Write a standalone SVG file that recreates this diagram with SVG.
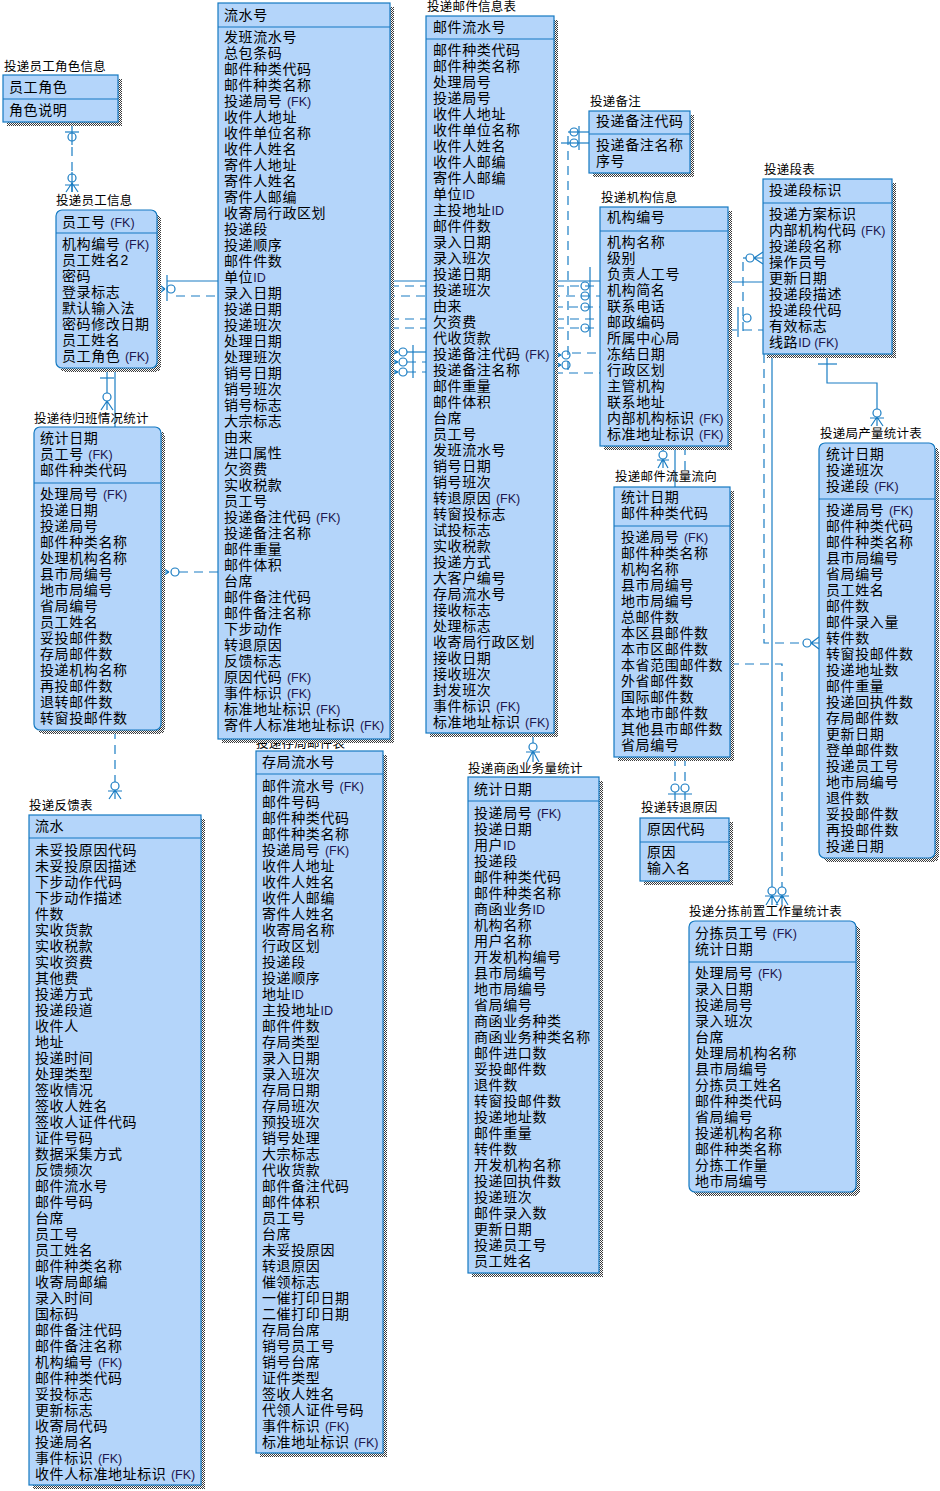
<svg xmlns="http://www.w3.org/2000/svg" width="940" height="1491" viewBox="0 0 940 1491">
<defs>
<pattern id="chk" width="2" height="2" patternUnits="userSpaceOnUse"><rect width="2" height="2" fill="#fff"/><rect width="1" height="1" fill="#3a3a3a"/><rect x="1" y="1" width="1" height="1" fill="#3a3a3a"/></pattern>
<style>
.t{font-family:"Liberation Sans","Noto Sans CJK SC",sans-serif;font-size:14px;letter-spacing:0.6px;fill:#000}
.lb{font-family:"Liberation Sans","Noto Sans CJK SC",sans-serif;font-size:12.5px;letter-spacing:0.25px;fill:#000}
.fk{font-size:12.5px;letter-spacing:0;fill:#1c1650}
.box{fill:#b4d5fa;stroke:#1479c1;stroke-width:1.2}
.sh{fill:url(#chk);shape-rendering:crispEdges}
.sep{stroke:#1479c1;stroke-width:1.2}
.c path,.c circle{stroke:#1a7dc3;stroke-width:1.2;fill:none}
.c .d{stroke-dasharray:9 6}
</style>
</defs>
<rect width="940" height="1491" fill="#fff"/>

<g id="connectors" class="c">
<path d="M72,122V145"/><path class="d" d="M72,147V172"/><path d="M72,172V192"/>
<path d="M65,132H79"/><circle cx="72" cy="137" r="4"/><circle cx="72" cy="178" r="4"/>
<path d="M65,185H79M72,183L66,192M72,183V192M72,183L78,192"/>
<path d="M165,289L157,283M165,289H157M165,289L157,295"/>
<circle cx="171" cy="289" r="4"/>
<path d="M167,275V301"/>
<path d="M167,281H600"/>
<path class="d" d="M176,296H600"/>
<path class="d" d="M390,286H600"/>
<path class="d" d="M554,307H600"/>
<path class="d" d="M390,319H600"/>
<path class="d" d="M390,328H600"/>
<circle cx="585" cy="286" r="4"/><circle cx="585" cy="296" r="4"/><circle cx="585" cy="307" r="4"/><circle cx="585" cy="328" r="4"/>
<path d="M590,267V337"/>
<path d="M398,352L390,348M398,352H390M398,352L390,356"/><circle cx="403" cy="352" r="4"/><path d="M407,352H426"/>
<path d="M398,362L390,358M398,362H390M398,362L390,366"/><circle cx="403" cy="362" r="4"/><path class="d" d="M407,362H426"/>
<path d="M398,372L390,368M398,372H390M398,372L390,376"/><circle cx="403" cy="372" r="4"/><path class="d" d="M407,372H426"/>
<path d="M413,345V378"/>
<circle cx="574" cy="132" r="4"/><circle cx="574" cy="143" r="4"/>
<path d="M579,126V150"/><path d="M561,143H589"/><path d="M568,132H589"/>
<path class="d" d="M568,136V373"/>
<path d="M561,355L554,351M561,355H554M561,355L554,359"/><circle cx="566" cy="355" r="4"/>
<path d="M561,365L554,361M561,365H554M561,365L554,369"/><circle cx="566" cy="365" r="4"/>
<path class="d" d="M572,353H600"/><path class="d" d="M554,373H600"/>
<path d="M169,572L161,567M169,572H161M169,572L161,577"/><circle cx="175" cy="572" r="4"/>
<path class="d" d="M179,572H218"/>
<path d="M107,368V393"/><path d="M100,378H114"/><circle cx="107" cy="397" r="4"/>
<path d="M107,401L101,410M107,401V410M107,401L113,410"/>
<path d="M115,368V427"/>
<path class="d" d="M115,730V782"/><circle cx="115" cy="786" r="4"/>
<path d="M108,791H122M115,790L109,799M115,790V799M115,790L121,799"/>
<path d="M533,733V743"/><circle cx="533" cy="747" r="4"/>
<path d="M526,752H540M533,751L527,762M533,751V762M533,751L539,762"/>
<path d="M728,282H772V887"/>
<path class="d" d="M728,330H764V643H803"/>
<circle cx="807" cy="643" r="4"/>
<path d="M811,643L819,637M811,643H819M811,643L819,649"/>
<path class="d" d="M743,262V337"/>
<path d="M743,258H746"/><circle cx="750" cy="258" r="4"/>
<path d="M754,258L763,252M754,258H763M754,258L763,264"/>
<circle cx="747" cy="318" r="4"/><path d="M738,307V337"/>
<path d="M827,354V383H877V409"/><path d="M818,364H837"/>
<circle cx="877" cy="413" r="4"/>
<path d="M870,418H884M877,417L871,426M877,417V426M877,417L883,426"/>
<path class="d" d="M730,664H782V887"/>
<circle cx="772" cy="891" r="4"/><circle cx="782" cy="891" r="4"/>
<path d="M765,896H789M772,895L766,905M772,895V905M772,895L778,905M782,895L776,905M782,895V905M782,895L788,905"/>
<path d="M663,446V451"/><circle cx="663" cy="455" r="4"/>
<path d="M657,460H669M663,459L658,468M663,459V468M663,459L668,468"/>
<path d="M675,446V487"/><path class="d" d="M685,446V475"/><path d="M675,448H685"/>
<path class="d" d="M675,757V784"/><path class="d" d="M685,757V784"/>
<circle cx="675" cy="788" r="4"/><circle cx="685" cy="788" r="4"/>
<path d="M668,794H692M675,792V800M685,792V800"/>
</g>

<g id="t-cunju">
<text class="lb" x="256" y="748">投递存局邮件表</text>
<rect class="sh" x="260" y="755" width="127" height="702"/>
<rect class="box" x="256" y="751" width="127" height="702"/>
<line class="sep" x1="256" y1="774" x2="383" y2="774"/>
<text class="t" x="262" y="767">存局流水号</text>
<text class="t" x="262" y="791"><tspan x="262" dy="0">邮件流水号 <tspan class="fk">(FK)</tspan></tspan><tspan x="262" dy="16">邮件号码</tspan><tspan x="262" dy="16">邮件种类代码</tspan><tspan x="262" dy="16">邮件种类名称</tspan><tspan x="262" dy="16">投递局号 <tspan class="fk">(FK)</tspan></tspan><tspan x="262" dy="16">收件人地址</tspan><tspan x="262" dy="16">收件人姓名</tspan><tspan x="262" dy="16">收件人邮编</tspan><tspan x="262" dy="16">寄件人姓名</tspan><tspan x="262" dy="16">收寄局名称</tspan><tspan x="262" dy="16">行政区划</tspan><tspan x="262" dy="16">投递段</tspan><tspan x="262" dy="16">投递顺序</tspan><tspan x="262" dy="16">地址<tspan class="fk">ID</tspan></tspan><tspan x="262" dy="16">主投地址<tspan class="fk">ID</tspan></tspan><tspan x="262" dy="16">邮件件数</tspan><tspan x="262" dy="16">存局类型</tspan><tspan x="262" dy="16">录入日期</tspan><tspan x="262" dy="16">录入班次</tspan><tspan x="262" dy="16">存局日期</tspan><tspan x="262" dy="16">存局班次</tspan><tspan x="262" dy="16">预投班次</tspan><tspan x="262" dy="16">销号处理</tspan><tspan x="262" dy="16">大宗标志</tspan><tspan x="262" dy="16">代收货款</tspan><tspan x="262" dy="16">邮件备注代码</tspan><tspan x="262" dy="16">邮件体积</tspan><tspan x="262" dy="16">员工号</tspan><tspan x="262" dy="16">台席</tspan><tspan x="262" dy="16">未妥投原因</tspan><tspan x="262" dy="16">转退原因</tspan><tspan x="262" dy="16">催领标志</tspan><tspan x="262" dy="16">一催打印日期</tspan><tspan x="262" dy="16">二催打印日期</tspan><tspan x="262" dy="16">存局台席</tspan><tspan x="262" dy="16">销号员工号</tspan><tspan x="262" dy="16">销号台席</tspan><tspan x="262" dy="16">证件类型</tspan><tspan x="262" dy="16">签收人姓名</tspan><tspan x="262" dy="16">代领人证件号码</tspan><tspan x="262" dy="16">事件标识 <tspan class="fk">(FK)</tspan></tspan><tspan x="262" dy="16">标准地址标识 <tspan class="fk">(FK)</tspan></tspan></text>
</g>

<g id="t-role">
<text class="lb" x="4" y="71">投递员工角色信息</text>
<rect class="sh" x="7" y="79" width="115" height="47"/>
<rect class="box" x="3" y="75" width="115" height="47"/>
<line class="sep" x1="3" y1="99" x2="118" y2="99"/>
<text class="t" x="9" y="92">员工角色</text>
<text class="t" x="9" y="115">角色说明</text>
</g>

<g id="t-staff">
<text class="lb" x="56" y="205">投递员工信息</text>
<rect class="sh" x="60" y="214" width="101" height="158" rx="6"/>
<rect class="box" x="56" y="210" width="101" height="158" rx="6"/>
<line class="sep" x1="56" y1="233" x2="157" y2="233"/>
<text class="t" x="62" y="227">员工号 <tspan class="fk">(FK)</tspan></text>
<text class="t" x="62" y="249"><tspan x="62" dy="0">机构编号 <tspan class="fk">(FK)</tspan></tspan><tspan x="62" dy="16">员工姓名2</tspan><tspan x="62" dy="16">密码</tspan><tspan x="62" dy="16">登录标志</tspan><tspan x="62" dy="16">默认输入法</tspan><tspan x="62" dy="16">密码修改日期</tspan><tspan x="62" dy="16">员工姓名</tspan><tspan x="62" dy="16">员工角色 <tspan class="fk">(FK)</tspan></tspan></text>
</g>

<g id="t-flow">
<rect class="sh" x="222" y="7" width="172" height="736"/>
<rect class="box" x="218" y="3" width="172" height="736"/>
<line class="sep" x1="218" y1="27" x2="390" y2="27"/>
<text class="t" x="224" y="20">流水号</text>
<text class="t" x="224" y="42"><tspan x="224" dy="0">发班流水号</tspan><tspan x="224" dy="16">总包条码</tspan><tspan x="224" dy="16">邮件种类代码</tspan><tspan x="224" dy="16">邮件种类名称</tspan><tspan x="224" dy="16">投递局号 <tspan class="fk">(FK)</tspan></tspan><tspan x="224" dy="16">收件人地址</tspan><tspan x="224" dy="16">收件单位名称</tspan><tspan x="224" dy="16">收件人姓名</tspan><tspan x="224" dy="16">寄件人地址</tspan><tspan x="224" dy="16">寄件人姓名</tspan><tspan x="224" dy="16">寄件人邮编</tspan><tspan x="224" dy="16">收寄局行政区划</tspan><tspan x="224" dy="16">投递段</tspan><tspan x="224" dy="16">投递顺序</tspan><tspan x="224" dy="16">邮件件数</tspan><tspan x="224" dy="16">单位<tspan class="fk">ID</tspan></tspan><tspan x="224" dy="16">录入日期</tspan><tspan x="224" dy="16">投递日期</tspan><tspan x="224" dy="16">投递班次</tspan><tspan x="224" dy="16">处理日期</tspan><tspan x="224" dy="16">处理班次</tspan><tspan x="224" dy="16">销号日期</tspan><tspan x="224" dy="16">销号班次</tspan><tspan x="224" dy="16">销号标志</tspan><tspan x="224" dy="16">大宗标志</tspan><tspan x="224" dy="16">由来</tspan><tspan x="224" dy="16">进口属性</tspan><tspan x="224" dy="16">欠资费</tspan><tspan x="224" dy="16">实收税款</tspan><tspan x="224" dy="16">员工号</tspan><tspan x="224" dy="16">投递备注代码 <tspan class="fk">(FK)</tspan></tspan><tspan x="224" dy="16">投递备注名称</tspan><tspan x="224" dy="16">邮件重量</tspan><tspan x="224" dy="16">邮件体积</tspan><tspan x="224" dy="16">台席</tspan><tspan x="224" dy="16">邮件备注代码</tspan><tspan x="224" dy="16">邮件备注名称</tspan><tspan x="224" dy="16">下步动作</tspan><tspan x="224" dy="16">转退原因</tspan><tspan x="224" dy="16">反馈标志</tspan><tspan x="224" dy="16">原因代码 <tspan class="fk">(FK)</tspan></tspan><tspan x="224" dy="16">事件标识 <tspan class="fk">(FK)</tspan></tspan><tspan x="224" dy="16">标准地址标识 <tspan class="fk">(FK)</tspan></tspan><tspan x="224" dy="16">寄件人标准地址标识 <tspan class="fk">(FK)</tspan></tspan></text>
</g>

<g id="t-mailinfo">
<text class="lb" x="427" y="11">投递邮件信息表</text>
<rect class="sh" x="430" y="20" width="128" height="717"/>
<rect class="box" x="426" y="16" width="128" height="717"/>
<line class="sep" x1="426" y1="39" x2="554" y2="39"/>
<text class="t" x="433" y="32">邮件流水号</text>
<text class="t" x="433" y="55"><tspan x="433" dy="0">邮件种类代码</tspan><tspan x="433" dy="16">邮件种类名称</tspan><tspan x="433" dy="16">处理局号</tspan><tspan x="433" dy="16">投递局号</tspan><tspan x="433" dy="16">收件人地址</tspan><tspan x="433" dy="16">收件单位名称</tspan><tspan x="433" dy="16">收件人姓名</tspan><tspan x="433" dy="16">收件人邮编</tspan><tspan x="433" dy="16">寄件人邮编</tspan><tspan x="433" dy="16">单位<tspan class="fk">ID</tspan></tspan><tspan x="433" dy="16">主投地址<tspan class="fk">ID</tspan></tspan><tspan x="433" dy="16">邮件件数</tspan><tspan x="433" dy="16">录入日期</tspan><tspan x="433" dy="16">录入班次</tspan><tspan x="433" dy="16">投递日期</tspan><tspan x="433" dy="16">投递班次</tspan><tspan x="433" dy="16">由来</tspan><tspan x="433" dy="16">欠资费</tspan><tspan x="433" dy="16">代收货款</tspan><tspan x="433" dy="16">投递备注代码 <tspan class="fk">(FK)</tspan></tspan><tspan x="433" dy="16">投递备注名称</tspan><tspan x="433" dy="16">邮件重量</tspan><tspan x="433" dy="16">邮件体积</tspan><tspan x="433" dy="16">台席</tspan><tspan x="433" dy="16">员工号</tspan><tspan x="433" dy="16">发班流水号</tspan><tspan x="433" dy="16">销号日期</tspan><tspan x="433" dy="16">销号班次</tspan><tspan x="433" dy="16">转退原因 <tspan class="fk">(FK)</tspan></tspan><tspan x="433" dy="16">转窗投标志</tspan><tspan x="433" dy="16">试投标志</tspan><tspan x="433" dy="16">实收税款</tspan><tspan x="433" dy="16">投递方式</tspan><tspan x="433" dy="16">大客户编号</tspan><tspan x="433" dy="16">存局流水号</tspan><tspan x="433" dy="16">接收标志</tspan><tspan x="433" dy="16">处理标志</tspan><tspan x="433" dy="16">收寄局行政区划</tspan><tspan x="433" dy="16">接收日期</tspan><tspan x="433" dy="16">接收班次</tspan><tspan x="433" dy="16">封发班次</tspan><tspan x="433" dy="16">事件标识 <tspan class="fk">(FK)</tspan></tspan><tspan x="433" dy="16">标准地址标识 <tspan class="fk">(FK)</tspan></tspan></text>
</g>

<g id="t-remark">
<text class="lb" x="590" y="106">投递备注</text>
<rect class="sh" x="593" y="115" width="101" height="62"/>
<rect class="box" x="589" y="111" width="101" height="62"/>
<line class="sep" x1="589" y1="134" x2="690" y2="134"/>
<text class="t" x="596" y="126">投递备注代码</text>
<text class="t" x="596" y="150"><tspan x="596" dy="0">投递备注名称</tspan><tspan x="596" dy="16">序号</tspan></text>
</g>

<g id="t-org">
<text class="lb" x="601" y="202">投递机构信息</text>
<rect class="sh" x="604" y="211" width="128" height="239"/>
<rect class="box" x="600" y="207" width="128" height="239"/>
<line class="sep" x1="600" y1="231" x2="728" y2="231"/>
<text class="t" x="607" y="222">机构编号</text>
<text class="t" x="607" y="247"><tspan x="607" dy="0">机构名称</tspan><tspan x="607" dy="16">级别</tspan><tspan x="607" dy="16">负责人工号</tspan><tspan x="607" dy="16">机构简名</tspan><tspan x="607" dy="16">联系电话</tspan><tspan x="607" dy="16">邮政编码</tspan><tspan x="607" dy="16">所属中心局</tspan><tspan x="607" dy="16">冻结日期</tspan><tspan x="607" dy="16">行政区划</tspan><tspan x="607" dy="16">主管机构</tspan><tspan x="607" dy="16">联系地址</tspan><tspan x="607" dy="16">内部机构标识 <tspan class="fk">(FK)</tspan></tspan><tspan x="607" dy="16">标准地址标识 <tspan class="fk">(FK)</tspan></tspan></text>
</g>

<g id="t-segment">
<text class="lb" x="764" y="174">投递段表</text>
<rect class="sh" x="767" y="183" width="129" height="175"/>
<rect class="box" x="763" y="179" width="129" height="175"/>
<line class="sep" x1="763" y1="203" x2="892" y2="203"/>
<text class="t" x="769" y="195">投递段标识</text>
<text class="t" x="769" y="219"><tspan x="769" dy="0">投递方案标识</tspan><tspan x="769" dy="16">内部机构代码 <tspan class="fk">(FK)</tspan></tspan><tspan x="769" dy="16">投递段名称</tspan><tspan x="769" dy="16">操作员号</tspan><tspan x="769" dy="16">更新日期</tspan><tspan x="769" dy="16">投递段描述</tspan><tspan x="769" dy="16">投递段代码</tspan><tspan x="769" dy="16">有效标志</tspan><tspan x="769" dy="16">线路<tspan class="fk">ID (FK)</tspan></tspan></text>
</g>

<g id="t-output">
<text class="lb" x="820" y="438">投递局产量统计表</text>
<rect class="sh" x="823" y="447" width="116" height="415" rx="6"/>
<rect class="box" x="819" y="443" width="116" height="415" rx="6"/>
<line class="sep" x1="819" y1="499" x2="935" y2="499"/>
<text class="t" x="826" y="459"><tspan x="826" dy="0">统计日期</tspan><tspan x="826" dy="16">投递班次</tspan><tspan x="826" dy="16">投递段 <tspan class="fk">(FK)</tspan></tspan></text>
<text class="t" x="826" y="515"><tspan x="826" dy="0">投递局号 <tspan class="fk">(FK)</tspan></tspan><tspan x="826" dy="16">邮件种类代码</tspan><tspan x="826" dy="16">邮件种类名称</tspan><tspan x="826" dy="16">县市局编号</tspan><tspan x="826" dy="16">省局编号</tspan><tspan x="826" dy="16">员工姓名</tspan><tspan x="826" dy="16">邮件数</tspan><tspan x="826" dy="16">邮件录入量</tspan><tspan x="826" dy="16">转件数</tspan><tspan x="826" dy="16">转窗投邮件数</tspan><tspan x="826" dy="16">投递地址数</tspan><tspan x="826" dy="16">邮件重量</tspan><tspan x="826" dy="16">投递回执件数</tspan><tspan x="826" dy="16">存局邮件数</tspan><tspan x="826" dy="16">更新日期</tspan><tspan x="826" dy="16">登单邮件数</tspan><tspan x="826" dy="16">投递员工号</tspan><tspan x="826" dy="16">地市局编号</tspan><tspan x="826" dy="16">退件数</tspan><tspan x="826" dy="16">妥投邮件数</tspan><tspan x="826" dy="16">再投邮件数</tspan><tspan x="826" dy="16">投递日期</tspan></text>
</g>

<g id="t-direction">
<text class="lb" x="615" y="481">投递邮件流量流向</text>
<rect class="sh" x="618" y="491" width="116" height="270"/>
<rect class="box" x="614" y="487" width="116" height="270"/>
<line class="sep" x1="614" y1="526" x2="730" y2="526"/>
<text class="t" x="621" y="502"><tspan x="621" dy="0">统计日期</tspan><tspan x="621" dy="16">邮件种类代码</tspan></text>
<text class="t" x="621" y="542"><tspan x="621" dy="0">投递局号 <tspan class="fk">(FK)</tspan></tspan><tspan x="621" dy="16">邮件种类名称</tspan><tspan x="621" dy="16">机构名称</tspan><tspan x="621" dy="16">县市局编号</tspan><tspan x="621" dy="16">地市局编号</tspan><tspan x="621" dy="16">总邮件数</tspan><tspan x="621" dy="16">本区县邮件数</tspan><tspan x="621" dy="16">本市区邮件数</tspan><tspan x="621" dy="16">本省范围邮件数</tspan><tspan x="621" dy="16">外省邮件数</tspan><tspan x="621" dy="16">国际邮件数</tspan><tspan x="621" dy="16">本地市邮件数</tspan><tspan x="621" dy="16">其他县市邮件数</tspan><tspan x="621" dy="16">省局编号</tspan></text>
</g>

<g id="t-reason">
<text class="lb" x="641" y="812">投递转退原因</text>
<rect class="sh" x="644" y="822" width="89" height="63"/>
<rect class="box" x="640" y="818" width="89" height="63"/>
<line class="sep" x1="640" y1="842" x2="729" y2="842"/>
<text class="t" x="647" y="834">原因代码</text>
<text class="t" x="647" y="857"><tspan x="647" dy="0">原因</tspan><tspan x="647" dy="16">输入名</tspan></text>
</g>

<g id="t-sorting">
<text class="lb" x="689" y="916">投递分拣前置工作量统计表</text>
<rect class="sh" x="693" y="925" width="167" height="271" rx="6"/>
<rect class="box" x="689" y="921" width="167" height="271" rx="6"/>
<line class="sep" x1="689" y1="962" x2="856" y2="962"/>
<text class="t" x="695" y="938"><tspan x="695" dy="0">分拣员工号 <tspan class="fk">(FK)</tspan></tspan><tspan x="695" dy="16">统计日期</tspan></text>
<text class="t" x="695" y="978"><tspan x="695" dy="0">处理局号 <tspan class="fk">(FK)</tspan></tspan><tspan x="695" dy="16">录入日期</tspan><tspan x="695" dy="16">投递局号</tspan><tspan x="695" dy="16">录入班次</tspan><tspan x="695" dy="16">台席</tspan><tspan x="695" dy="16">处理局机构名称</tspan><tspan x="695" dy="16">县市局编号</tspan><tspan x="695" dy="16">分拣员工姓名</tspan><tspan x="695" dy="16">邮件种类代码</tspan><tspan x="695" dy="16">省局编号</tspan><tspan x="695" dy="16">投递机构名称</tspan><tspan x="695" dy="16">邮件种类名称</tspan><tspan x="695" dy="16">分拣工作量</tspan><tspan x="695" dy="16">地市局编号</tspan></text>
</g>

<g id="t-business">
<text class="lb" x="468" y="773">投递商函业务量统计</text>
<rect class="sh" x="472" y="781" width="131" height="496"/>
<rect class="box" x="468" y="777" width="131" height="496"/>
<line class="sep" x1="468" y1="801" x2="599" y2="801"/>
<text class="t" x="474" y="794">统计日期</text>
<text class="t" x="474" y="818"><tspan x="474" dy="0">投递局号 <tspan class="fk">(FK)</tspan></tspan><tspan x="474" dy="16">投递日期</tspan><tspan x="474" dy="16">用户<tspan class="fk">ID</tspan></tspan><tspan x="474" dy="16">投递段</tspan><tspan x="474" dy="16">邮件种类代码</tspan><tspan x="474" dy="16">邮件种类名称</tspan><tspan x="474" dy="16">商函业务<tspan class="fk">ID</tspan></tspan><tspan x="474" dy="16">机构名称</tspan><tspan x="474" dy="16">用户名称</tspan><tspan x="474" dy="16">开发机构编号</tspan><tspan x="474" dy="16">县市局编号</tspan><tspan x="474" dy="16">地市局编号</tspan><tspan x="474" dy="16">省局编号</tspan><tspan x="474" dy="16">商函业务种类</tspan><tspan x="474" dy="16">商函业务种类名称</tspan><tspan x="474" dy="16">邮件进口数</tspan><tspan x="474" dy="16">妥投邮件数</tspan><tspan x="474" dy="16">退件数</tspan><tspan x="474" dy="16">转窗投邮件数</tspan><tspan x="474" dy="16">投递地址数</tspan><tspan x="474" dy="16">邮件重量</tspan><tspan x="474" dy="16">转件数</tspan><tspan x="474" dy="16">开发机构名称</tspan><tspan x="474" dy="16">投递回执件数</tspan><tspan x="474" dy="16">投递班次</tspan><tspan x="474" dy="16">邮件录入数</tspan><tspan x="474" dy="16">更新日期</tspan><tspan x="474" dy="16">投递员工号</tspan><tspan x="474" dy="16">员工姓名</tspan></text>
</g>

<g id="t-pending">
<text class="lb" x="34" y="423">投递待归班情况统计</text>
<rect class="sh" x="38" y="431" width="127" height="303" rx="6"/>
<rect class="box" x="34" y="427" width="127" height="303" rx="6"/>
<line class="sep" x1="34" y1="483" x2="161" y2="483"/>
<text class="t" x="40" y="443"><tspan x="40" dy="0">统计日期</tspan><tspan x="40" dy="16">员工号 <tspan class="fk">(FK)</tspan></tspan><tspan x="40" dy="16">邮件种类代码</tspan></text>
<text class="t" x="40" y="499"><tspan x="40" dy="0">处理局号 <tspan class="fk">(FK)</tspan></tspan><tspan x="40" dy="16">投递日期</tspan><tspan x="40" dy="16">投递局号</tspan><tspan x="40" dy="16">邮件种类名称</tspan><tspan x="40" dy="16">处理机构名称</tspan><tspan x="40" dy="16">县市局编号</tspan><tspan x="40" dy="16">地市局编号</tspan><tspan x="40" dy="16">省局编号</tspan><tspan x="40" dy="16">员工姓名</tspan><tspan x="40" dy="16">妥投邮件数</tspan><tspan x="40" dy="16">存局邮件数</tspan><tspan x="40" dy="16">投递机构名称</tspan><tspan x="40" dy="16">再投邮件数</tspan><tspan x="40" dy="16">退转邮件数</tspan><tspan x="40" dy="16">转窗投邮件数</tspan></text>
</g>

<g id="t-feedback">
<text class="lb" x="29" y="810">投递反馈表</text>
<rect class="sh" x="33" y="819" width="172" height="670"/>
<rect class="box" x="29" y="815" width="172" height="670"/>
<line class="sep" x1="29" y1="838" x2="201" y2="838"/>
<text class="t" x="35" y="831">流水</text>
<text class="t" x="35" y="855"><tspan x="35" dy="0">未妥投原因代码</tspan><tspan x="35" dy="16">未妥投原因描述</tspan><tspan x="35" dy="16">下步动作代码</tspan><tspan x="35" dy="16">下步动作描述</tspan><tspan x="35" dy="16">件数</tspan><tspan x="35" dy="16">实收货款</tspan><tspan x="35" dy="16">实收税款</tspan><tspan x="35" dy="16">实收资费</tspan><tspan x="35" dy="16">其他费</tspan><tspan x="35" dy="16">投递方式</tspan><tspan x="35" dy="16">投递段道</tspan><tspan x="35" dy="16">收件人</tspan><tspan x="35" dy="16">地址</tspan><tspan x="35" dy="16">投递时间</tspan><tspan x="35" dy="16">处理类型</tspan><tspan x="35" dy="16">签收情况</tspan><tspan x="35" dy="16">签收人姓名</tspan><tspan x="35" dy="16">签收人证件代码</tspan><tspan x="35" dy="16">证件号码</tspan><tspan x="35" dy="16">数据采集方式</tspan><tspan x="35" dy="16">反馈频次</tspan><tspan x="35" dy="16">邮件流水号</tspan><tspan x="35" dy="16">邮件号码</tspan><tspan x="35" dy="16">台席</tspan><tspan x="35" dy="16">员工号</tspan><tspan x="35" dy="16">员工姓名</tspan><tspan x="35" dy="16">邮件种类名称</tspan><tspan x="35" dy="16">收寄局邮编</tspan><tspan x="35" dy="16">录入时间</tspan><tspan x="35" dy="16">国标码</tspan><tspan x="35" dy="16">邮件备注代码</tspan><tspan x="35" dy="16">邮件备注名称</tspan><tspan x="35" dy="16">机构编号 <tspan class="fk">(FK)</tspan></tspan><tspan x="35" dy="16">邮件种类代码</tspan><tspan x="35" dy="16">妥投标志</tspan><tspan x="35" dy="16">更新标志</tspan><tspan x="35" dy="16">收寄局代码</tspan><tspan x="35" dy="16">投递局名</tspan><tspan x="35" dy="16">事件标识 <tspan class="fk">(FK)</tspan></tspan><tspan x="35" dy="16">收件人标准地址标识 <tspan class="fk">(FK)</tspan></tspan></text>
</g>
</svg>
